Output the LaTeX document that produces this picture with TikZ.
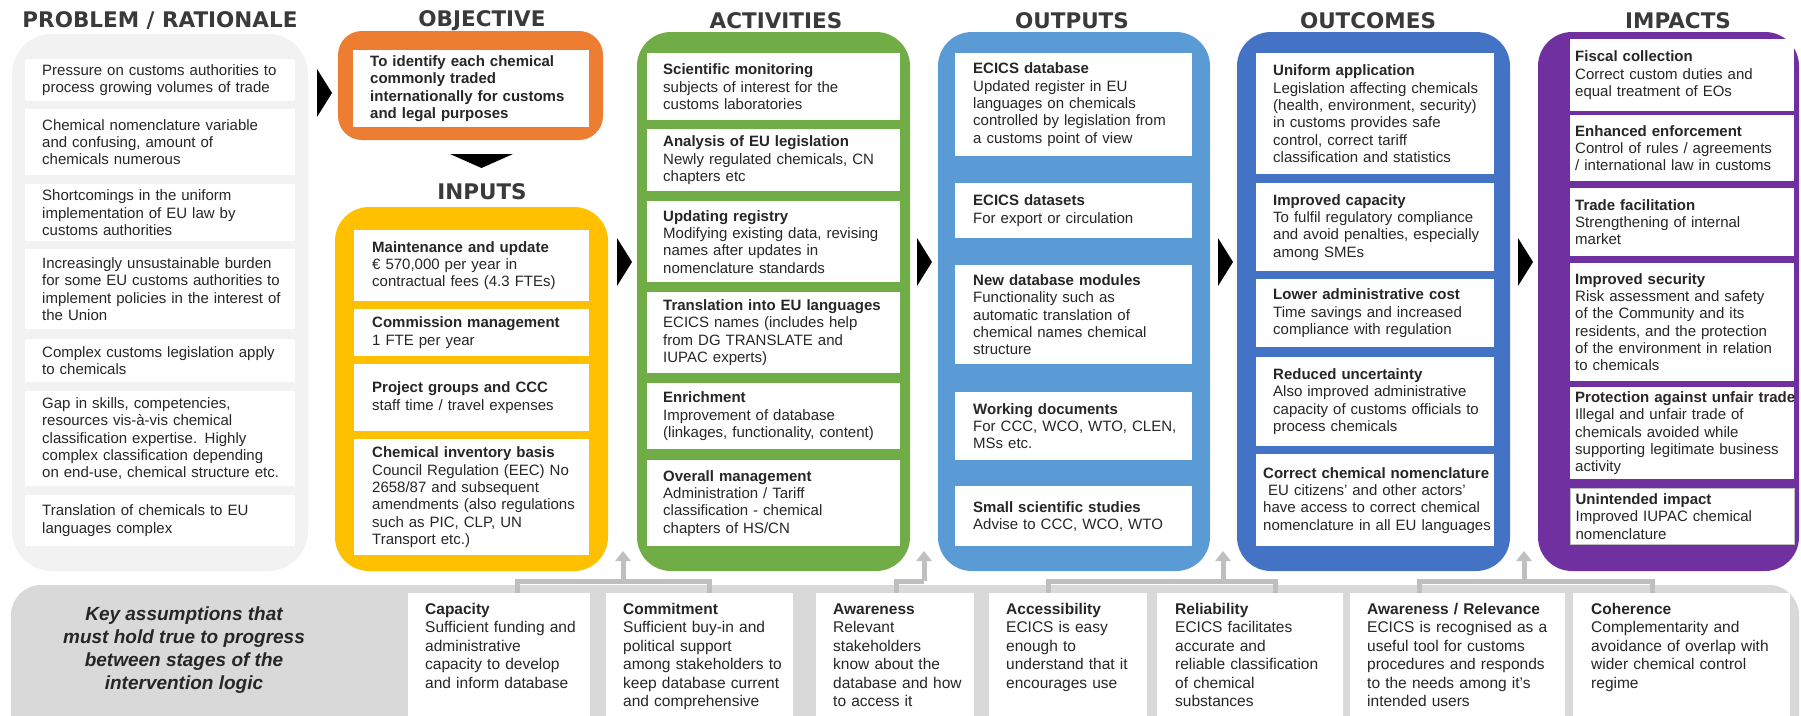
\documentclass[tikz,border=0pt]{standalone}
\usepackage{fontspec}
\setmainfont{Liberation Sans}
\newfontfamily\headfont{DejaVu Sans}
\usetikzlibrary{arrows.meta}

\definecolor{probgray}{HTML}{F2F2F2}
\definecolor{objorange}{HTML}{ED7D31}
\definecolor{inpyellow}{HTML}{FFC000}
\definecolor{actgreen}{HTML}{70AD47}
\definecolor{outblue}{HTML}{5B9BD5}
\definecolor{ocmblue}{HTML}{4472C4}
\definecolor{imppurple}{HTML}{7030A0}
\definecolor{keygray}{HTML}{D9D9D9}
\definecolor{brkgray}{HTML}{BFBFBF}
\definecolor{headgray}{HTML}{3A3A3A}

\begin{document}
\begin{tikzpicture}[x=1pt,y=-1pt,
  head/.style={font=\headfont\bfseries\fontsize{21.5}{26}\selectfont,text=headgray},
  item/.style={fill=white,anchor=north west,align=left,inner xsep=0pt,inner ysep=0pt,
    font=\fontsize{15}{17.3}\selectfont,text=black!85},
  inset/.style={execute at begin node={\leftskip=#1\rightskip=-40pt plus 1fil}},
  probbox/.style={item,text width=270pt,inset=17pt},
  objbox/.style={item,text width=236pt,inset=17pt},
  inpbox/.style={item,text width=235pt,inset=18pt},
  actbox/.style={item,text width=253pt,inset=16pt},
  outbox/.style={item,text width=237pt,inset=18pt},
  ocmbox/.style={item,text width=238pt,inset=17pt},
  impbox/.style={item,text width=224pt,inset=5pt},
  keybox/.style={item,font=\fontsize{15.5}{18.5}\selectfont,inner ysep=9pt,
    text height=12pt,text depth=140pt,inset=17pt},
  chev/.style={fill=black},
  brk/.style={draw=brkgray,line width=5pt}]
\useasboundingbox (0,0) rectangle (1801,715);

% column backgrounds
\fill[probgray,rounded corners=40pt] (12,34) rectangle (308,571);
\fill[objorange,rounded corners=24pt] (338,31) rectangle (603,140);
\fill[inpyellow,rounded corners=34pt] (335,207) rectangle (608,571);
\fill[actgreen,rounded corners=34pt] (637,32) rectangle (910,571);
\fill[outblue,rounded corners=34pt] (938,32) rectangle (1210,571);
\fill[ocmblue,rounded corners=34pt] (1237,32) rectangle (1510,571);
\fill[imppurple,rounded corners=34pt] (1538,32) rectangle (1799,571);
\fill[keygray,rounded corners=30pt] (11,585) rectangle (1799,760);

% headers
\node[head] (hprob) at (160,21) {PROBLEM / RATIONALE};
\node[head] (hobj) at (482,21) {OBJECTIVE};
\node[head] (hinp) at (482,192) {INPUTS};
\node[head] (hact) at (776,21) {ACTIVITIES};
\node[head] (hout) at (1072,21) {OUTPUTS};
\node[head] (hocm) at (1368,21) {OUTCOMES};
\node[head] (himp) at (1678,21) {IMPACTS};

% problem / rationale
\node[probbox,minimum height=42pt] (p1) at (25,59) {Pressure on customs authorities to\\process growing volumes of trade};
\node[probbox,minimum height=66pt] (p2) at (25,109) {Chemical nomenclature variable\\and confusing, amount of\\chemicals numerous};
\node[probbox,minimum height=57pt] (p3) at (25,184) {Shortcomings in the uniform\\implementation of EU law by\\customs authorities};
\node[probbox,minimum height=80pt] (p4) at (25,249) {Increasingly unsustainable burden\\for some EU customs authorities to\\implement policies in the interest of\\the Union};
\node[probbox,minimum height=43pt] (p5) at (25,339) {Complex customs legislation apply\\to chemicals};
\node[probbox,minimum height=95pt] (p6) at (25,391) {Gap in skills, competencies,\\resources vis-à-vis chemical\\classification expertise. Highly\\complex classification depending\\on end-use, chemical structure etc.};
\node[probbox,minimum height=51pt] (p7) at (25,495) {Translation of chemicals to EU\\languages complex};

% objective
\node[objbox,minimum height=77pt,font=\bfseries\fontsize{15}{17.3}\selectfont] (obj) at (353,50) {To identify each chemical\\commonly traded\\internationally for customs\\and legal purposes};

% inputs
\node[inpbox,minimum height=71pt] (i1) at (354,230) {\textbf{Maintenance and update}\\€ 570,000 per year in\\contractual fees (4.3 FTEs)};
\node[inpbox,minimum height=47pt] (i2) at (354,309) {\textbf{Commission management}\\1 FTE per year};
\node[inpbox,minimum height=67pt] (i3) at (354,364) {\textbf{Project groups and CCC}\\staff time / travel expenses};
\node[inpbox,minimum height=116pt] (i4) at (354,439) {\textbf{Chemical inventory basis}\\Council Regulation (EEC) No\\2658/87 and subsequent\\amendments (also regulations\\such as PIC, CLP, UN\\Transport etc.)};

% activities
\node[actbox,minimum height=67pt] (a1) at (647,53) {\textbf{Scientific monitoring}\\subjects of interest for the\\customs laboratories};
\node[actbox,minimum height=62pt] (a2) at (647,129) {\textbf{Analysis of EU legislation}\\Newly regulated chemicals, CN\\chapters etc};
\node[actbox,minimum height=81pt] (a3) at (647,201) {\textbf{Updating registry}\\Modifying existing data, revising\\names after updates in\\nomenclature standards};
\node[actbox,minimum height=81pt] (a4) at (647,292) {\textbf{Translation into EU languages}\\ECICS names (includes help\\from DG TRANSLATE and\\IUPAC experts)};
\node[actbox,minimum height=66pt] (a5) at (647,383) {\textbf{Enrichment}\\Improvement of database\\(linkages, functionality, content)};
\node[actbox,minimum height=86pt] (a6) at (647,460) {\textbf{Overall management}\\Administration / Tariff\\classification - chemical\\chapters of HS/CN};

% outputs
\node[outbox,minimum height=103pt] (o1) at (955,53) {\textbf{ECICS database}\\Updated register in EU\\languages on chemicals\\controlled by legislation from\\a customs point of view};
\node[outbox,minimum height=55pt] (o2) at (955,183) {\textbf{ECICS datasets}\\For export or circulation};
\node[outbox,minimum height=99pt] (o3) at (955,265) {\textbf{New database modules}\\Functionality such as\\automatic translation of\\chemical names chemical\\structure};
\node[outbox,minimum height=68pt] (o4) at (955,392) {\textbf{Working documents}\\For CCC, WCO, WTO, CLEN,\\MSs etc.};
\node[outbox,minimum height=60pt] (o5) at (955,486) {\textbf{Small scientific studies}\\Advise to CCC, WCO, WTO};

% outcomes
\node[ocmbox,minimum height=121pt] (c1) at (1256,53) {\textbf{Uniform application}\\Legislation affecting chemicals\\(health, environment, security)\\in customs provides safe\\control, correct tariff\\classification and statistics};
\node[ocmbox,minimum height=88pt] (c2) at (1256,183) {\textbf{Improved capacity}\\To fulfil regulatory compliance\\and avoid penalties, especially\\among SMEs};
\node[ocmbox,minimum height=68pt] (c3) at (1256,279) {\textbf{Lower administrative cost}\\Time savings and increased\\compliance with regulation};
\node[ocmbox,minimum height=89pt] (c4) at (1256,357) {\textbf{Reduced uncertainty}\\Also improved administrative\\capacity of customs officials to\\process chemicals};
\node[ocmbox,minimum height=92pt,inset=7pt] (c5) at (1256,454) {\textbf{Correct chemical nomenclature}\\\ EU citizens’ and other actors’\\have access to correct chemical\\nomenclature in all EU languages};

% impacts
\node[impbox,minimum height=72pt] (m1) at (1570,39) {\textbf{Fiscal collection}\\Correct custom duties and\\equal treatment of EOs};
\node[impbox,minimum height=66pt] (m2) at (1570,115) {\textbf{Enhanced enforcement}\\Control of rules / agreements\\/ international law in customs};
\node[impbox,minimum height=68pt] (m3) at (1570,188) {\textbf{Trade facilitation}\\Strengthening of internal\\market};
\node[impbox,minimum height=118pt] (m4) at (1570,263) {\textbf{Improved security}\\Risk assessment and safety\\of the Community and its\\residents, and the protection\\of the environment in relation\\to chemicals};
\node[impbox,minimum height=92pt] (m5) at (1570,387) {\textbf{Protection against unfair trade}\\Illegal and unfair trade of\\chemicals avoided while\\supporting legitimate business\\activity};
\node[impbox,minimum height=56pt,draw=black!25,line width=1.2pt] (m6) at (1570,488) {\textbf{Unintended impact}\\Improved IUPAC chemical\\nomenclature};

% key assumptions
\node[align=center,font=\bfseries\itshape\fontsize{19}{23}\selectfont,text=black!85] (key) at (184,650) {Key assumptions that\\must hold true to progress\\between stages of the\\intervention logic};
\node[keybox,text width=182pt] (cap) at (408,593) {\textbf{Capacity}\\Sufficient funding and\\administrative\\capacity to develop\\and inform database};
\node[keybox,text width=187pt] (com) at (606,593) {\textbf{Commitment}\\Sufficient buy-in and\\political support\\among stakeholders to\\keep database current\\and comprehensive};
\node[keybox,text width=158pt] (awa) at (816,593) {\textbf{Awareness}\\Relevant\\stakeholders\\know about the\\database and how\\to access it};
\node[keybox,text width=158pt] (acc) at (989,593) {\textbf{Accessibility}\\ECICS is easy\\enough to\\understand that it\\encourages use};
\node[keybox,text width=186pt,inset=18pt] (rel) at (1157,593) {\textbf{Reliability}\\ECICS facilitates\\accurate and\\reliable classification\\of chemical\\substances};
\node[keybox,text width=215pt] (awr) at (1350,593) {\textbf{Awareness / Relevance}\\ECICS is recognised as a\\useful tool for customs\\procedures and responds\\to the needs among it’s\\intended users};
\node[keybox,text width=217pt,inset=18pt] (coh) at (1573,593) {\textbf{Coherence}\\Complementarity and\\avoidance of overlap with\\wider chemical control\\regime};

% assumption brackets
\coordinate (g1) at (623,551);
\coordinate (g2) at (924,551);
\coordinate (g3) at (1223,551);
\coordinate (g4) at (1524,551);
\coordinate (j1) at (623,581);
\coordinate (j2) at (924,581);
\coordinate (j3) at (1223,581);
\coordinate (j4) at (1524,581);
\draw[brk] ([xshift=18pt]cap.north) |- (j1) -| ([xshift=10pt]com.north);
\draw[brk] ([xshift=1pt]awa.north) |- (j2);
\draw[brk] ([xshift=-20pt]acc.north) |- (j3) -| ([xshift=25pt]rel.north);
\draw[brk] ([xshift=-38pt]awr.north) |- (j4) -| ([xshift=-29pt]coh.north);
\foreach \j/\g in {j1/g1,j2/g2,j3/g3,j4/g4}
  \draw[brk,-{Triangle[width=15pt,length=10pt]}] (\j) -- (\g);

% chevrons between stages
\fill[chev] (317,69) -- (332,93) -- (317,117) -- cycle;
\fill[chev] (450,154) -- (513,154) -- (481.5,168) -- cycle;
\foreach \x in {617,917,1218,1518}
  \fill[chev] (\x,238) -- (\x+15,262) -- (\x,286) -- cycle;
\end{tikzpicture}
\end{document}
